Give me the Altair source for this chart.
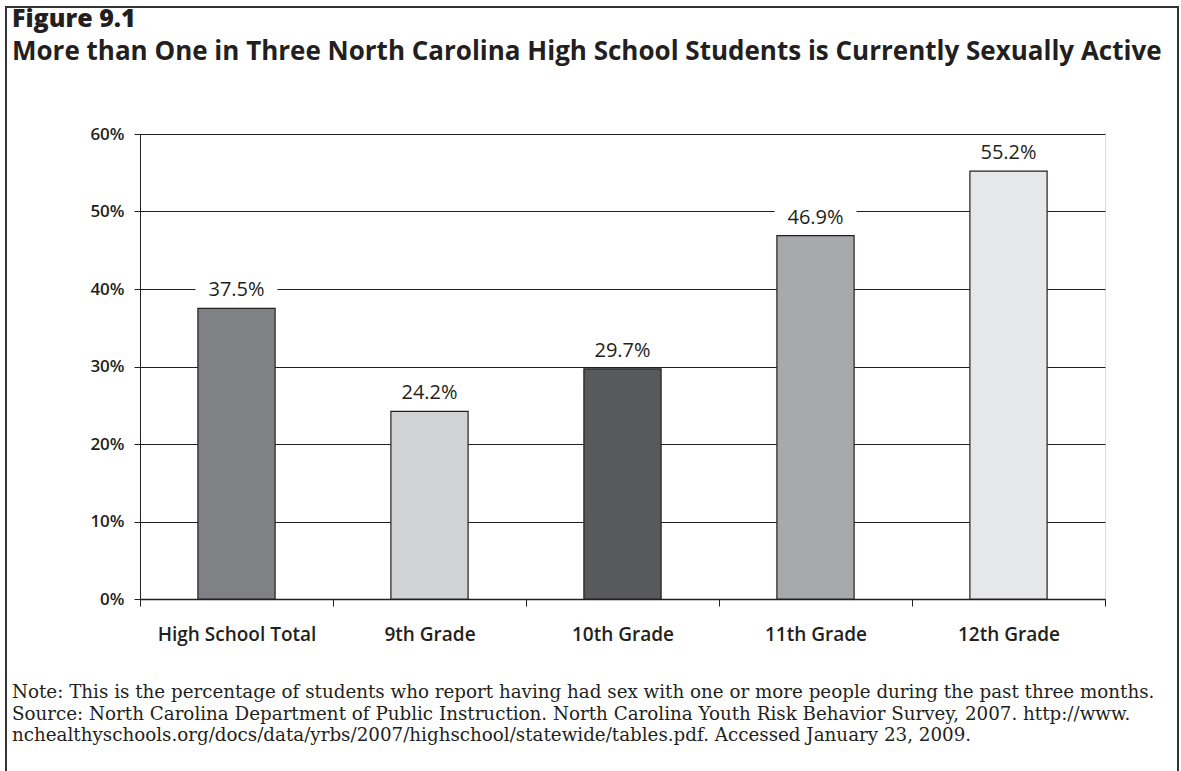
import altair as alt
import pandas as pd

categories = ["High School Total", "9th Grade", "10th Grade", "11th Grade", "12th Grade"]
values = [37.5, 24.2, 29.7, 46.9, 55.2]
labels = ["37.5%", "24.2%", "29.7%", "46.9%", "55.2%"]
colors = ["#808184", "#d1d2d4", "#58595b", "#a7a9ac", "#e6e7e8"]
y_ticks = [0, 10, 20, 30, 40, 50, 60]

title_text = "Figure 9.1"
subtitle_text = "More than One in Three North Carolina High School Students is Currently Sexually Active"
note_lines = [
    "Note: This is the percentage of students who report having had sex with one or more people during the past three months.",
    "Source: North Carolina Department of Public Instruction. North Carolina Youth Risk Behavior Survey, 2007. http://www.",
    "nchealthyschools.org/docs/data/yrbs/2007/highschool/statewide/tables.pdf. Accessed January 23, 2009.",
]

df = pd.DataFrame({"cat": categories, "val": values, "lab": labels})

W, H = 965, 465
PL, PT = 140, 134
SANS = "Open Sans"
INK = "#231f20"

x_enc = alt.X("cat:N", sort=categories,
              scale=alt.Scale(paddingInner=0, paddingOuter=0),
              axis=alt.Axis(title=None, labelAngle=0, tickBand="extent", tickSize=7,
                            tickColor=INK, domainColor=INK, domainWidth=1.5,
                            labelFont=SANS, labelFontSize=19, labelFontWeight=600,
                            labelColor=INK, labelPadding=19, grid=False))
y_enc = alt.Y("val:Q",
              scale=alt.Scale(domain=[0, 60], nice=False),
              axis=alt.Axis(title=None, values=y_ticks, format=".0f",
                            labelExpr="datum.value + '%'",
                            grid=True, gridColor=INK, gridWidth=1, gridOpacity=1,
                            tickSize=6, tickColor=INK, domainColor=INK,
                            labelFont=SANS, labelFontSize=17, labelFontWeight=600,
                            labelColor=INK, labelPadding=10))

base = alt.Chart(df)

bars = base.mark_bar(width=alt.RelativeBandSize(0.4), stroke=INK, strokeWidth=1.2).encode(
    x=x_enc, y=y_enc,
    color=alt.Color("cat:N", sort=categories,
                    scale=alt.Scale(domain=categories, range=colors), legend=None),
)

label_bg = base.mark_point(
    shape="M-1,-0.28L1,-0.28L1,0.28L-1,0.28Z", filled=True, fill="white",
    opacity=1, size=6724, strokeWidth=0,
).encode(x=alt.X("cat:N", sort=categories), y="val:Q", yOffset=alt.value(-18))

label_txt = base.mark_text(
    font=SANS, fontSize=20, fontWeight=500, color=INK, baseline="middle",
).encode(x=alt.X("cat:N", sort=categories), y="val:Q", yOffset=alt.value(-18), text="lab:N")

one = pd.DataFrame({"k": [0]})

border = alt.Chart(one).mark_rect(fill=None, stroke="#333333", strokeWidth=2).encode(
    x=alt.value(6 - PL), x2=alt.value(1178 - PL),
    y=alt.value(7 - PT), y2=alt.value(800 - PT),
)

title = alt.Chart(pd.DataFrame({"t": [title_text]})).mark_text(
    font=SANS, fontSize=25, fontWeight=800, color=INK, align="left", baseline="alphabetic",
).encode(x=alt.value(12 - PL), y=alt.value(27 - PT), text="t:N")

subtitle = alt.Chart(pd.DataFrame({"t": [subtitle_text]})).mark_text(
    font=SANS, fontSize=26, fontWeight="bold", color=INK, align="left", baseline="alphabetic",
).encode(x=alt.value(12 - PL), y=alt.value(60 - PT), text="t:N")

note = alt.Chart(pd.DataFrame({"t": ["\n".join(note_lines)]})).mark_text(
    font="DejaVu Serif", fontSize=18.3, color=INK, align="left", baseline="alphabetic",
    lineBreak="\n", lineHeight=21.5,
).encode(x=alt.value(12 - PL), y=alt.value(698 - PT), text="t:N")

chart = alt.layer(border, bars, label_bg, label_txt, title, subtitle, note).properties(
    width=W, height=H,
    autosize=alt.AutoSizeParams(type="none"),
    padding={"left": PL, "top": PT, "right": 1181 - PL - W, "bottom": 771 - PT - H},
).configure_view(stroke=INK, strokeWidth=1).configure(background="white")

chart.save("out.html", embed_options={"renderer": "svg", "actions": False})
